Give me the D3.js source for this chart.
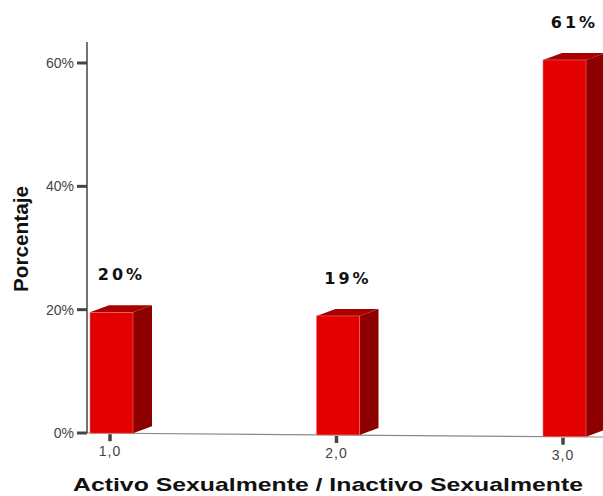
<!DOCTYPE html>
<html>
<head>
<meta charset="utf-8">
<script src="https://cdn.jsdelivr.net/npm/d3@7"></script>
<style>
  html, body { margin: 0; padding: 0; background: #fff; }
  svg { display: block; }
</style>
</head>
<body>
<svg id="chart" width="603" height="496"></svg>
<script>
// ---- data ----
const categories = ["1,0", "2,0", "3,0"];
const values = [19.6, 19.3, 61.1];
const valueLabels = ["20%", "19%", "61%"];
const yTicks = [0, 20, 40, 60];
const yTickLabels = ["0%", "20%", "40%", "60%"];
const xTitle = "Activo Sexualmente / Inactivo Sexualmente";
const yTitle = "Porcentaje";

// ---- layout ----
const W = 603, H = 496;
const axisX = 87;
const svg = d3.select("#chart");

const y = d3.scaleLinear().domain([0, 60]).range([433, 63]);
const x = d3.scalePoint().domain(categories).range([110, 563]);
const floorSlope = 0.0078;
const floorY = px => y(0) + (px - axisX) * floorSlope;

const halfW = 21.5, depthX = 19, depthY = -7, barShift = 1.5;

// floor line
svg.append("line")
  .attr("x1", axisX).attr("y1", floorY(axisX))
  .attr("x2", W).attr("y2", floorY(W))
  .attr("stroke", "#8a8a8a").attr("stroke-width", 1.2);

// bars
const bars = svg.append("g");
categories.forEach((c, i) => {
  const tx = x(c);
  const cx = tx + barShift;
  const base = floorY(cx);
  const top = base - (y(0) - y(values[i]));
  const l = cx - halfW, r = cx + halfW;
  const g = bars.append("g");
  // side face
  g.append("path")
    .attr("d", `M${r},${base} L${r + depthX},${base + depthY} L${r + depthX},${top + depthY} L${r},${top} Z`)
    .attr("fill", "#8e0000");
  // top face
  g.append("path")
    .attr("d", `M${l},${top} L${l + depthX},${top + depthY} L${r + depthX},${top + depthY} L${r},${top} Z`)
    .attr("fill", "#a80000");
  // front face
  g.append("rect")
    .attr("x", l).attr("y", top).attr("width", r - l).attr("height", base - top)
    .attr("fill", "#e30000")
    .attr("stroke", "#f07070").attr("stroke-width", 0.6);
  // value label
  g.append("text")
    .attr("x", cx + depthX / 2 + 0.5).attr("y", top - 32)
    .attr("text-anchor", "middle")
    .attr("font-family", "DejaVu Sans")
    .attr("font-weight", "bold")
    .attr("font-size", 16)
    .attr("letter-spacing", 3)
    .attr("fill", "#111")
    .text(valueLabels[i]);
  // x tick
  g.append("line")
    .attr("x1", tx).attr("x2", tx)
    .attr("y1", base + 1).attr("y2", base + 8)
    .attr("stroke", "#444").attr("stroke-width", 3.5);
  g.append("text")
    .attr("x", tx).attr("y", base + 23)
    .attr("text-anchor", "middle")
    .attr("font-family", "Liberation Sans, Arial, sans-serif")
    .attr("font-size", 14)
    .attr("letter-spacing", 1)
    .attr("fill", "#444")
    .text(c);
});

// y axis
svg.append("line")
  .attr("x1", axisX).attr("x2", axisX)
  .attr("y1", 42).attr("y2", y(0))
  .attr("stroke", "#444").attr("stroke-width", 1.5);
const yt = svg.append("g");
yTicks.forEach((t, i) => {
  yt.append("line")
    .attr("x1", 77).attr("x2", axisX)
    .attr("y1", y(t)).attr("y2", y(t))
    .attr("stroke", "#444").attr("stroke-width", 3);
  yt.append("text")
    .attr("x", 74).attr("y", y(t) + 5)
    .attr("text-anchor", "end")
    .attr("font-family", "Liberation Sans, Arial, sans-serif")
    .attr("font-size", 14)
    .attr("fill", "#444")
    .text(yTickLabels[i]);
});

// titles
svg.append("text")
  .attr("x", 73).attr("y", 491)
  .attr("font-family", "Liberation Sans, Arial, sans-serif")
  .attr("font-weight", "bold")
  .attr("font-size", 19)
  .attr("textLength", 510)
  .attr("lengthAdjust", "spacingAndGlyphs")
  .attr("fill", "#111")
  .text(xTitle);

svg.append("text")
  .attr("transform", "translate(28,239) rotate(-90)")
  .attr("text-anchor", "middle")
  .attr("font-family", "Liberation Sans, Arial, sans-serif")
  .attr("font-weight", "bold")
  .attr("font-size", 20)
  .attr("textLength", 106)
  .attr("lengthAdjust", "spacingAndGlyphs")
  .attr("fill", "#111")
  .text(yTitle);
</script>
</body>
</html>
